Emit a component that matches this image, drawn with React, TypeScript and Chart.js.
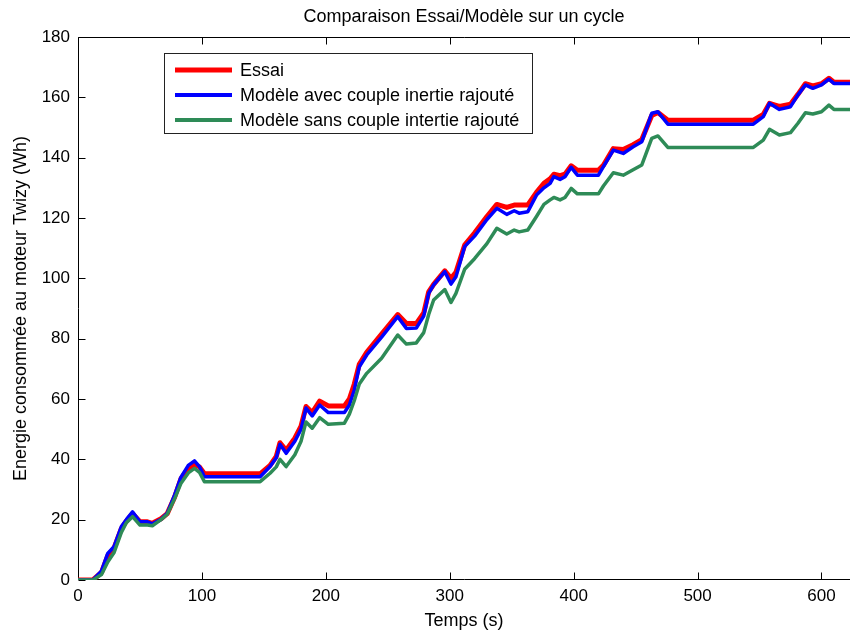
import React, { useEffect, useRef } from "react";
import { Chart, registerables } from "chart.js";

Chart.register(...registerables);

const TITLE = "Comparaison Essai/Modèle sur un cycle";
const X_LABEL = "Temps (s)";
const Y_LABEL = "Energie consommée au moteur Twizy (Wh)";
const SERIES_NAMES = [
  "Essai",
  "Modèle avec couple inertie rajouté",
  "Modèle sans couple intertie rajouté",
];
const SERIES_COLORS = ["#ff0000", "#0000ff", "#2e8b57"];

const times = [
  0, 12, 19, 24, 29, 35, 39, 44, 50, 56, 60, 67, 72, 78, 83, 89, 94, 98, 102, 147,
  155, 160, 163, 168, 175, 180, 184, 189, 195, 202, 215, 219, 223, 227, 233, 245, 258, 265, 273, 279,
  283, 287, 296, 301, 305, 312, 320, 330, 338, 346, 352, 356, 363, 370, 376, 381, 384, 389, 393, 398,
  403, 420, 424, 432, 440, 448, 455, 463, 468, 476, 545, 553, 558, 566, 575, 581, 587, 593, 600, 606,
  610, 625,
];

const essai = [
  0, 0, 2.5, 8, 10.5, 17, 19.5, 22, 19.3, 19.3, 18.8, 20.3, 22, 27.5, 33.5, 37, 38.3, 37.5, 35.2, 35.2,
  38, 41, 45.5, 43, 47, 51, 57.5, 55.5, 59.3, 57.7, 57.7, 60, 65, 71.5, 75.5, 81.5, 88, 85, 85, 88.5,
  95.5, 98, 102.5, 100, 102, 111, 115, 120.5, 124.5, 123.5, 124.3, 124.3, 124.3, 128.5, 131.5, 133, 134.5, 134, 134.5, 137.3,
  135.8, 135.8, 137.5, 143, 142.7, 144.3, 146, 154, 155, 152.4, 152.4, 154.3, 158, 157, 157.7, 161, 164.5, 163.8, 164.5, 166.3,
  165, 165,
];

const avecInertie = [
  0, 0, 3, 8.8, 11, 17.7, 20, 22.6, 19.3, 19.3, 18.6, 20.1, 22.1, 28.2, 34, 38, 39.5, 37.6, 34.2, 34.2,
  37.6, 40.5, 45, 42, 46, 50, 57, 54.4, 58, 55.5, 55.5, 58, 63, 70.7, 74.6, 80.5, 87.3, 83.4, 83.5, 87.5,
  95, 97.8, 102.2, 98.1, 100.5, 110.5, 114, 119.5, 123.2, 121.2, 122.4, 121.6, 122.1, 127.6, 130, 131.5, 133.7, 132.8, 133.7, 136.8,
  134.2, 134.2, 137, 142.5, 141.4, 143.6, 145.3, 154.7, 155.2, 151.1, 151.1, 153.6, 158, 156, 156.9, 160.8, 164.1, 163, 164.1, 166,
  164.6, 164.6,
];

const sansInertie = [
  0, 0, 1.8, 6, 9, 15.8, 19, 21, 18.2, 18.2, 18, 20, 21.8, 27, 32, 35.5, 37, 35.7, 32.6, 32.6,
  35.4, 37.5, 40, 37.6, 41.5, 46, 52.4, 50.3, 53.8, 51.6, 52, 55, 59.5, 65, 68.5, 73.5, 81.2, 78.2, 78.6, 82,
  88, 92.8, 96.3, 92, 95, 103, 106.5, 111.5, 116.6, 114.7, 116, 115.4, 116, 120.5, 124.5, 126, 126.8, 126, 126.8, 129.8,
  128, 128, 130.6, 135, 134.2, 136, 137.6, 146.4, 147.2, 143.4, 143.4, 145.8, 149.4, 147.5, 148.3, 151.4, 154.9, 154.5, 155.2, 157.4,
  156, 156,
];

const X_TICKS = [0, 100, 200, 300, 400, 500, 600];
const Y_TICKS = [0, 20, 40, 60, 80, 100, 120, 140, 160, 180];

const FONT = "'Liberation Sans', Arial, sans-serif";

const decorPlugin = {
  id: "decor",
  beforeDatasetsDraw(chart: any) {
    const { ctx, chartArea: a, scales } = chart;
    const L = Math.round(a.left) + 0.5;
    const T = Math.round(a.top) + 0.5;
    const B = Math.round(a.bottom) - 0.5;
    const R = Math.round(a.right) + 1;
    ctx.save();
    ctx.strokeStyle = "#000";
    ctx.lineWidth = 1;
    ctx.beginPath();
    ctx.moveTo(R, T);
    ctx.lineTo(L, T);
    ctx.lineTo(L, B);
    ctx.lineTo(R, B);
    ctx.stroke();
    const tl = 7;
    ctx.beginPath();
    for (const v of X_TICKS) {
      const px = Math.round(scales.x.getPixelForValue(v)) + 0.5;
      ctx.moveTo(px, B);
      ctx.lineTo(px, B - tl);
      ctx.moveTo(px, T);
      ctx.lineTo(px, T + tl);
    }
    for (const v of Y_TICKS) {
      const py = Math.round(scales.y.getPixelForValue(v)) + 0.5;
      ctx.moveTo(L, py);
      ctx.lineTo(L + tl, py);
    }
    ctx.stroke();
    ctx.restore();
  },
  afterDraw(chart: any) {
    const { ctx, chartArea: a } = chart;
    ctx.save();
    ctx.fillStyle = "#000";
    ctx.font = `18px ${FONT}`;
    ctx.textAlign = "center";
    ctx.textBaseline = "middle";
    const cx = (a.left + a.right) / 2;
    ctx.fillText(TITLE, cx, 17);
    ctx.fillText(X_LABEL, cx, 621);
    ctx.save();
    ctx.translate(21, (a.top + a.bottom) / 2);
    ctx.rotate(-Math.PI / 2);
    ctx.fillText(Y_LABEL, 0, 0);
    ctx.restore();

    // legend
    const bx = 164.5, by = 53.5, bw = 368, bh = 80;
    ctx.fillStyle = "#fff";
    ctx.fillRect(bx, by, bw, bh);
    ctx.strokeStyle = "#222";
    ctx.lineWidth = 1;
    ctx.strokeRect(bx, by, bw, bh);
    const rows = [70, 95, 120];
    const widths = [5, 4, 4];
    ctx.textAlign = "left";
    ctx.textBaseline = "middle";
    ctx.font = `18px ${FONT}`;
    SERIES_NAMES.forEach((name, i) => {
      ctx.strokeStyle = SERIES_COLORS[i];
      ctx.lineWidth = widths[i];
      ctx.beginPath();
      ctx.moveTo(175, rows[i]);
      ctx.lineTo(232, rows[i]);
      ctx.stroke();
      ctx.fillStyle = "#000";
      ctx.fillText(name, 240, rows[i] + 1);
    });
    ctx.restore();
  },
};

export default function App() {
  const ref = useRef<HTMLCanvasElement | null>(null);
  useEffect(() => {
    if (!ref.current) return;
    const mk = (vals: number[]) => times.map((t, i) => ({ x: t, y: vals[i] }));
    const chart = new Chart(ref.current, {
      type: "line",
      data: {
        datasets: [
          {
            label: SERIES_NAMES[0],
            data: mk(essai),
            borderColor: SERIES_COLORS[0],
            borderWidth: 5,
            order: 3,
          },
          {
            label: SERIES_NAMES[1],
            data: mk(avecInertie),
            borderColor: SERIES_COLORS[1],
            borderWidth: 3.5,
            order: 2,
          },
          {
            label: SERIES_NAMES[2],
            data: mk(sansInertie),
            borderColor: SERIES_COLORS[2],
            borderWidth: 3.5,
            order: 1,
          },
        ],
      },
      options: {
        animation: false,
        responsive: false,
        devicePixelRatio: 1,
        elements: {
          point: { radius: 0 },
          line: { tension: 0, borderJoinStyle: "round", borderCapStyle: "round" },
        },
        layout: { padding: { top: 37, right: 0, bottom: 0, left: 0 } },
        plugins: {
          legend: { display: false },
          title: { display: false },
          tooltip: { enabled: false },
        },
        scales: {
          x: {
            type: "linear",
            min: 0,
            max: 623,
            grid: { display: false, drawTicks: false },
            border: { display: false },
            afterBuildTicks: (s: any) => {
              s.ticks = X_TICKS.map((v) => ({ value: v }));
            },
            afterFit: (s: any) => {
              s.height = 54;
            },
            ticks: {
              color: "#000",
              padding: 6,
              maxRotation: 0,
              autoSkip: false,
              font: { size: 17, family: FONT },
            },
          },
          y: {
            type: "linear",
            min: 0,
            max: 180,
            grid: { display: false, drawTicks: false },
            border: { display: false },
            afterBuildTicks: (s: any) => {
              s.ticks = Y_TICKS.map((v) => ({ value: v }));
            },
            afterFit: (s: any) => {
              s.width = 78;
            },
            ticks: {
              color: "#000",
              padding: 8,
              autoSkip: false,
              font: { size: 17, family: FONT },
            },
          },
        },
      },
      plugins: [decorPlugin],
    });
    return () => chart.destroy();
  }, []);
  return (
    <div style={{ position: "absolute", left: 0, top: 0, width: 850, height: 634, background: "#fff" }}>
      <canvas ref={ref} width={850} height={634} style={{ display: "block" }} />
    </div>
  );
}
